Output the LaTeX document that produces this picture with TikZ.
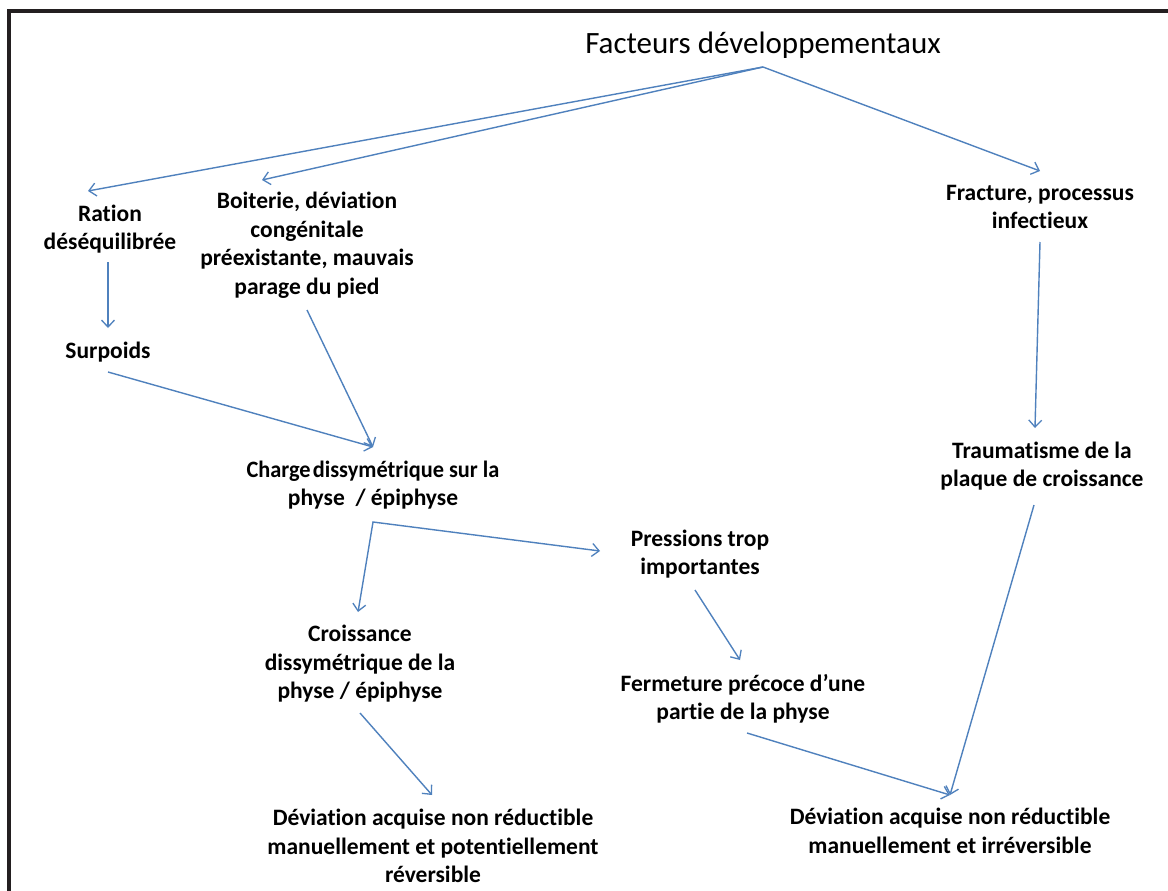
\documentclass[tikz,border=0pt]{standalone}
\usepackage{fontspec}
\setmainfont[Ligatures=NoCommon]{Carlito}
\usetikzlibrary{arrows.meta,calc}
\definecolor{arrblue}{HTML}{4F81BD}
\definecolor{frame}{HTML}{231F20}
\tikzset{
  lbl/.style={align=center,font=\bfseries\fontsize{23.5}{28.5}\selectfont,inner sep=0pt},
  ttl/.style={align=center,font=\fontsize{31}{36}\selectfont,inner sep=0pt},
  arr/.style={draw=arrblue,line width=1.4pt,-{Straight Barb[length=7pt,width=13pt,line width=1.3pt]}},
  arrboth/.style={draw=arrblue,line width=1.4pt,{Straight Barb[length=7pt,width=13pt,line width=1.3pt]}-{Straight Barb[length=7pt,width=13pt,line width=1.3pt]}},
}
\begin{document}
\begin{tikzpicture}[x=1pt,y=-1pt]
\useasboundingbox (0,0) rectangle (1168,891);
\fill[white] (0,0) rectangle (1168,891);
% frame
\draw[frame,line width=4pt] (7,11.5) -- (1168,11.5);
\draw[frame,line width=4pt] (9,9.5) -- (9,891);

% nodes
\node[ttl] (title) at (763,45) {Facteurs développementaux};
\node[lbl] (ration) at (110,229) {Ration\\déséquilibrée};
\node[lbl] (boiterie) at (307,245) {Boiterie, déviation\\congénitale\\préexistante, mauvais\\parage du pied};
\node[lbl] (fracture) at (1040,207) {Fracture, processus\\infectieux};
\node[lbl] (surpoids) at (108,352) {Surpoids};
\node[lbl] (charge) at (373,485) {\scalebox{0.95}[1]{Charge\kern-3pt{} dissymétrique sur la}\\physe \ / épiphyse};
\node[lbl] (trauma) at (1042,466) {Traumatisme de la\\plaque de croissance};
\node[lbl] (pressions) at (700,554) {Pressions trop\\importantes};
\node[lbl] (croissance) at (360,664) {Croissance\\dissymétrique de la\\physe / épiphyse};
\node[lbl] (fermeture) at (743,699) {Fermeture précoce d’une\\partie de la physe};
\node[lbl] (dev1) at (433,846) {Déviation acquise non réductible\\manuellement et potentiellement\\réversible};
\node[lbl] (dev2) at (950,831) {Déviation acquise non réductible\\manuellement et irréversible};

% connectors
\coordinate (apex) at ($(title)+(0,22)$);
\draw[arr] (apex) -- ($(ration)+(-22,-38)$);
\draw[arr] (apex) -- ($(boiterie)+(-45,-65)$);
\draw[arr] (apex) -- ($(fracture)+(0,-36)$);
\draw[arr] ($(ration)+(-2,33)$) -- ($(surpoids)+(0,-24)$);
\draw[arr] ($(surpoids)+(0,20)$) -- ($(charge)+(0,-38)$);
\draw[arr] ($(boiterie)+(0,65)$) -- ($(charge)+(0,-38)$);
\draw[arrboth] ($(pressions)+(-100,-3)$) -- ($(charge)+(0,37)$) -- ($(croissance)+(-2,-52)$);
\draw[arr] ($(fracture)+(0,35)$) -- ($(trauma)+(-7,-38)$);
\draw[arr] ($(pressions)+(-5,36)$) -- ($(fermeture)+(-3,-39)$);
\draw[arr] ($(croissance)+(0,49)$) -- ($(dev1)+(-1,-51)$);
\draw[arr] ($(fermeture)+(4,34)$) -- ($(dev2)+(0,-36)$);
\draw[arr] ($(trauma)+(-8,39)$) -- ($(dev2)+(0,-36)$);
\end{tikzpicture}
\end{document}
